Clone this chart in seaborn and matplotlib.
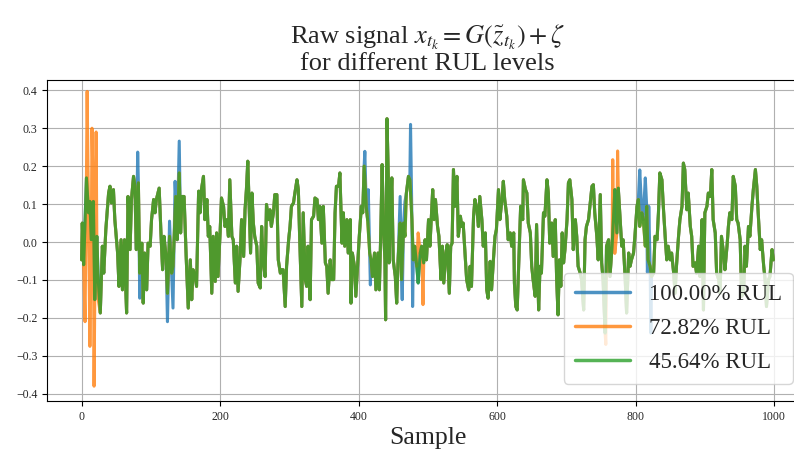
import matplotlib
matplotlib.use("Agg")
import matplotlib.pyplot as plt
import pandas as pd
import seaborn as sns

# 45.64% RUL trace as (sample, amplitude)
trace_4564 = [
    (0, -0.047), (1, 0.050), (3, -0.060), (7, 0.169), (10, 0.077), (12, 0.107), (14, 0.006),
    (17, 0.107), (19, -0.152), (22, 0.015), (24, -0.099), (27, -0.187), (30, -0.011), (32, -0.082),
    (35, 0.033), (39, 0.129), (41, 0.147), (43, 0.103), (46, 0.138), (48, 0.059), (52, -0.029),
    (54, -0.117), (57, 0.006), (59, -0.126), (62, 0.006), (64, -0.135), (65, -0.187), (67, 0.120),
    (70, -0.020), (72, 0.112), (75, 0.173), (77, 0.147), (79, -0.020), (82, 0.156), (84, -0.082),
    (87, -0.003), (89, -0.161), (91, -0.029), (94, -0.126), (96, -0.003), (99, -0.011), (101, 0.059),
    (104, 0.112), (106, 0.077), (108, 0.112), (112, 0.142), (115, 0.006), (117, -0.073), (119, 0.015),
    (122, -0.038), (124, -0.135), (127, 0.015), (130, -0.082), (132, -0.064), (136, 0.120), (138, 0.006),
    (141, 0.182), (143, 0.024), (145, 0.120), (148, 0.120), (151, -0.038), (154, -0.174), (157, -0.047),
    (159, -0.152), (161, -0.073), (164, -0.091), (166, -0.117), (169, 0.134), (171, 0.077), (173, 0.138),
    (176, 0.173), (178, 0.059), (181, 0.112), (183, 0.015), (185, 0.041), (188, -0.135), (190, 0.015),
    (193, -0.104), (195, 0.024), (197, -0.091), (200, 0.024), (202, 0.116), (205, 0.094), (207, 0.041),
    (210, 0.059), (212, 0.015), (214, 0.164), (217, 0.015), (219, 0.006), (222, -0.108), (224, -0.011),
    (226, -0.130), (229, -0.038), (231, 0.059), (234, -0.038), (236, 0.085), (238, 0.138), (240, 0.213),
    (242, 0.094), (244, -0.029), (246, 0.129), (248, 0.050), (250, 0.015), (253, -0.011), (255, -0.108),
    (258, -0.121), (260, 0.041), (262, -0.047), (265, -0.091), (267, 0.099), (270, 0.059), (272, 0.085),
    (274, 0.041), (277, 0.077), (279, 0.125), (282, 0.125), (284, -0.047), (287, -0.082), (289, -0.073),
    (291, -0.073), (294, -0.170), (296, -0.064), (299, 0.006), (301, 0.041), (303, 0.094), (306, 0.103),
    (308, 0.129), (311, 0.164), (313, 0.138), (315, 0.006), (318, -0.170), (320, 0.077), (323, -0.099),
    (325, -0.117), (327, -0.011), (330, -0.152), (332, 0.059), (335, 0.068), (337, 0.116), (340, 0.112),
    (342, 0.059), (344, 0.094), (347, -0.003), (349, 0.094), (352, -0.055), (354, -0.064), (356, -0.135),
    (359, -0.047), (361, -0.099), (364, -0.099), (366, 0.077), (368, 0.147), (371, 0.147), (373, 0.182),
    (376, -0.003), (378, 0.077), (380, -0.011), (383, 0.059), (385, -0.029), (388, 0.059), (389, -0.161),
    (391, -0.029), (394, -0.064), (396, -0.143), (399, -0.047), (401, 0.015), (404, 0.094), (406, 0.077),
    (408, 0.200), (411, 0.094), (413, 0.059), (416, -0.029), (418, -0.047), (420, -0.091), (423, -0.029),
    (425, -0.126), (428, -0.029), (430, -0.126), (432, 0.024), (434, 0.204), (436, 0.033), (438, -0.047),
    (439, -0.205), (441, 0.325), (443, 0.164), (444, -0.055), (446, 0.077), (448, 0.169), (450, -0.047),
    (453, -0.091), (455, -0.161), (457, -0.047), (460, 0.050), (462, -0.099), (465, 0.050), (467, 0.015),
    (469, 0.129), (472, 0.173), (474, 0.164), (477, 0.059), (479, -0.047), (481, -0.011), (484, -0.064),
    (486, -0.108), (489, -0.029), (491, -0.011), (494, -0.055), (496, 0.006), (498, -0.047), (501, 0.059),
    (503, -0.011), (507, 0.138), (509, 0.059), (511, 0.112), (514, 0.041), (516, 0.015), (519, -0.099),
    (521, -0.011), (523, -0.108), (526, -0.029), (528, -0.007), (531, -0.135), (533, -0.011), (535, -0.003),
    (537, 0.191), (539, 0.094), (542, 0.173), (544, 0.015), (547, 0.068), (549, 0.041), (551, 0.050),
    (554, -0.038), (556, -0.099), (559, -0.126), (561, -0.064), (563, -0.117), (566, 0.068), (568, 0.112),
    (571, 0.085), (573, 0.041), (575, 0.120), (578, 0.059), (580, -0.011), (583, 0.024), (585, -0.126),
    (587, -0.148), (590, -0.051), (592, -0.126), (595, -0.038), (597, 0.015), (599, 0.033), (602, 0.138),
    (604, 0.059), (607, 0.112), (609, 0.160), (611, 0.112), (614, 0.068), (616, 0.006), (619, 0.024),
    (621, -0.011), (624, 0.024), (625, -0.108), (627, -0.170), (629, -0.179), (632, -0.020), (634, 0.094),
    (637, 0.059), (638, 0.164), (641, 0.138), (643, 0.129), (645, 0.050), (648, 0.024), (650, -0.064),
    (652, -0.099), (655, -0.143), (657, 0.046), (660, -0.179), (662, -0.064), (664, -0.082), (667, 0.077),
    (669, 0.068), (672, 0.164), (674, 0.129), (676, -0.003), (679, 0.050), (681, -0.038), (684, 0.059),
    (686, -0.099), (688, -0.192), (690, -0.047), (692, -0.117), (694, 0.024), (696, -0.055), (698, -0.020),
    (701, 0.059), (703, 0.156), (705, 0.164), (708, 0.112), (710, -0.020), (713, 0.059), (715, 0.015),
    (717, -0.064), (720, -0.082), (722, -0.099), (725, -0.179), (727, 0.006), (729, 0.041), (732, 0.059),
    (734, 0.094), (737, 0.147), (739, 0.151), (741, 0.077), (744, 0.015), (746, -0.047), (749, 0.125),
    (751, -0.055), (753, -0.099), (756, -0.240), (758, -0.011), (761, 0.006), (763, -0.091), (766, -0.011),
    (768, 0.059), (770, 0.138), (773, 0.024), (775, 0.142), (778, 0.050), (780, -0.011), (782, 0.006),
    (785, -0.099), (787, -0.187), (790, -0.029), (792, -0.064), (794, -0.047), (797, -0.029), (799, 0.015),
    (802, 0.094), (804, 0.112), (806, 0.041), (809, 0.077), (811, 0.059), (814, -0.011), (816, 0.094),
    (818, -0.047), (821, -0.064), (823, -0.091), (826, -0.082), (828, 0.015), (831, 0.006), (833, 0.077),
    (835, 0.182), (838, 0.164), (840, 0.094), (843, 0.006), (845, -0.047), (847, -0.011), (850, -0.047),
    (852, -0.029), (855, -0.082), (857, -0.135), (859, -0.064), (862, 0.015), (864, 0.059), (867, 0.094),
    (869, 0.208), (871, 0.191), (874, 0.085), (876, 0.129), (879, 0.041), (881, 0.015), (883, -0.064),
    (886, -0.055), (888, -0.082), (891, -0.011), (893, -0.091), (896, 0.059), (898, -0.179), (900, 0.077),
    (903, 0.094), (905, 0.129), (908, 0.120), (910, 0.191), (912, 0.059), (915, 0.024), (917, -0.082),
    (920, -0.099), (922, -0.135), (924, 0.015), (927, -0.029), (929, -0.073), (932, -0.011), (934, 0.041),
    (936, 0.077), (939, 0.059), (941, 0.173), (944, 0.147), (946, 0.059), (948, 0.050), (951, 0.006),
    (953, -0.143), (956, -0.135), (958, -0.011), (960, -0.064), (963, 0.041), (965, 0.015), (968, 0.094),
    (970, 0.138), (973, 0.191), (975, 0.147), (977, 0.077), (980, -0.020), (982, 0.006), (985, -0.064),
    (987, -0.099), (989, -0.170), (992, -0.099), (994, -0.091), (997, -0.020), (999, -0.047),
]

# samples where the other two runs stick out from under the green trace
spikes_10000 = {81: 0.237, 84: -0.148, 124: -0.210, 127: 0.055, 132: -0.174, 135: 0.160,
                141: 0.266, 409: 0.239, 414: 0.138, 417: -0.113, 460: 0.120, 463: -0.152,
                467: 0.107, 475: 0.310, 478: -0.170, 806: 0.190, 814: 0.169, 817: -0.080,
                819: 0.094, 822: -0.240}
spikes_7282 = {5: -0.210, 8: 0.397, 12: -0.275, 15: 0.300, 18: -0.380, 21: 0.290, 24: -0.152,
               486: 0.024, 493: -0.165, 757: -0.270, 767: 0.217, 770: -0.030, 774: 0.240}

labels = ["100.00% RUL", "72.82% RUL", "45.64% RUL"]


def with_spikes(trace, spikes):
    pts = dict(trace)
    pts.update(spikes)
    return sorted(pts.items())


frames = []
for label, tr in zip(labels, [with_spikes(trace_4564, spikes_10000),
                              with_spikes(trace_4564, spikes_7282),
                              trace_4564]):
    frames.append(pd.DataFrame(tr, columns=["sample", "value"]).assign(run=label))
df = pd.concat(frames, ignore_index=True)

sns.set_style("ticks", {"axes.grid": True, "grid.color": "#b0b0b0"})
plt.rcParams["font.family"] = ["Liberation Serif", "DejaVu Serif"]
plt.rcParams["mathtext.fontset"] = "stix"

fig = plt.figure(figsize=(7.94, 4.53), dpi=100)
# the original was cropped on the right, so the axes run past the edge
ax = fig.add_axes([47 / 794, 52 / 453, 761 / 794, 321 / 453])

sns.lineplot(data=df, x="sample", y="value", hue="run", hue_order=labels,
             palette="tab10", alpha=0.8, lw=2.2, sort=False, ax=ax)

ax.set_xlim(-49.95, 1048.95)
ax.set_ylim(-0.419, 0.427)
ax.set_yticks([-0.4, -0.3, -0.2, -0.1, 0.0, 0.1, 0.2, 0.3, 0.4])
ax.tick_params(labelsize=8.5, length=3.5, width=0.8, color="black")
for sp in ax.spines.values():
    sp.set_color("black")
    sp.set_linewidth(0.8)
ax.grid(True, color="#b0b0b0", lw=0.8)

ax.set_xlabel("Sample", fontsize=18.5, labelpad=3)
ax.set_ylabel("")
ax.set_title("Raw signal $x_{t_k} = G(\\tilde{z}_{t_k}) + \\zeta$\nfor different RUL levels",
             fontsize=19, pad=7, linespacing=1.1)

leg = ax.legend(loc="lower right", bbox_to_anchor=(793 / 794, 69 / 453),
                bbox_transform=fig.transFigure, borderaxespad=0, fontsize=16.5,
                handlelength=2.4, labelspacing=0.55, borderpad=0.5,
                framealpha=0.8, edgecolor="#cccccc", fancybox=True)
for line in leg.get_lines():
    line.set_linewidth(2.5)

fig.savefig("out.png", dpi=100)
